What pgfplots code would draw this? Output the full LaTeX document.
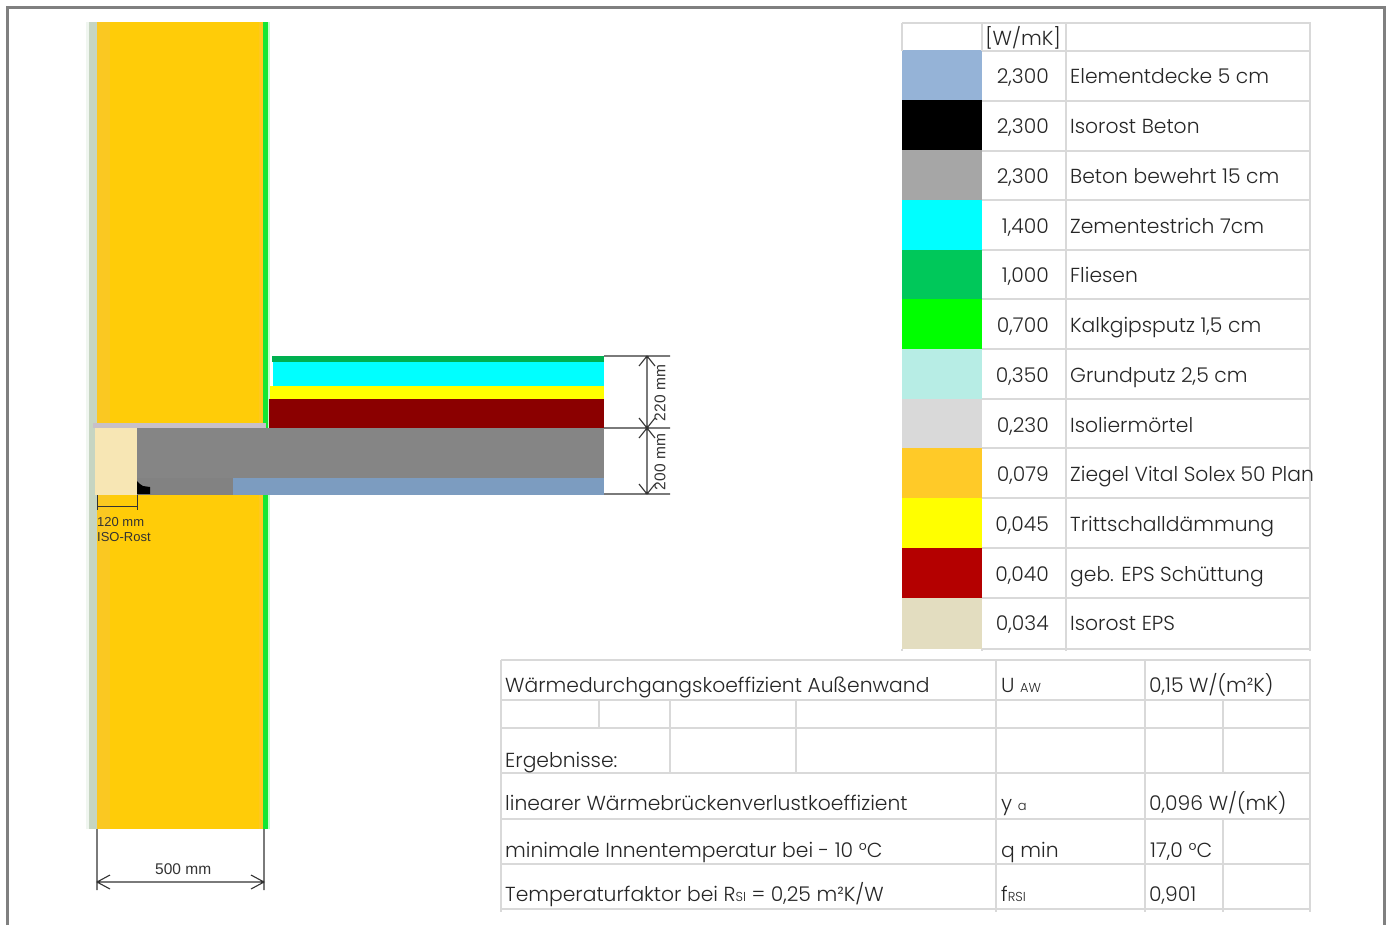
\documentclass[border=0pt]{standalone}
\usepackage{fontspec}
\setmainfont{Liberation Sans}
\newfontfamily\cg{Poppins Light}
\usepackage{pgfplots}
\pgfplotsset{compat=1.18}

\definecolor{pageframe}{HTML}{808080}
\definecolor{rulecol}{HTML}{D9D9D9}
\definecolor{ink}{HTML}{262626}
\definecolor{dimcol}{HTML}{333333}
\definecolor{wall}{HTML}{FFCC08}
\definecolor{wallL}{HTML}{FAC822}
\definecolor{wallR}{HTML}{FFC81E}
\definecolor{plaster}{HTML}{C6D5C2}
\definecolor{halo}{HTML}{F0F6F0}
\definecolor{lime}{HTML}{14E632}
\definecolor{limeL}{HTML}{C4FFCC}
\definecolor{mortar}{HTML}{C8C0C8}
\definecolor{eps}{HTML}{F7E6B4}
\definecolor{conc}{HTML}{858585}
\definecolor{concB}{HTML}{828282}
\definecolor{deck}{HTML}{7C9CC0}
\definecolor{tile}{HTML}{00B050}
\definecolor{screed}{HTML}{00FFFF}
\definecolor{sound}{HTML}{FFFF00}
\definecolor{fillred}{HTML}{8B0000}
\definecolor{s1}{HTML}{95B3D7}
\definecolor{s3}{HTML}{A6A6A6}
\definecolor{s5}{HTML}{00C85A}
\definecolor{s6}{HTML}{00FF00}
\definecolor{s7}{HTML}{B7EDE5}
\definecolor{s9}{HTML}{FFCA28}
\definecolor{s11}{HTML}{B40000}
\definecolor{s12}{HTML}{E3DDC0}

% filled block in pixel coordinates
\newcommand{\block}[5]{\addplot[fill=#1,draw=none,forget plot] coordinates {(#2,#3)(#4,#3)(#4,#5)(#2,#5)} --cycle;}
\newcommand{\cell}[3]{\node[anchor=base west,inner sep=0pt,text=ink] at (axis cs:#1,#2) {\cg\fontsize{20.3}{24}\selectfont #3};}
\newcommand{\val}[2]{\node[anchor=base east,inner sep=0pt,text=ink] at (axis cs:1049,#1) {\cg\fontsize{20.3}{24}\selectfont #2};}
\newcommand{\lab}[3]{\node[anchor=base west,inner sep=0pt,text=dimcol] at (axis cs:#1,#2) {#3};}
\newcommand{\sub}[1]{{\fontsize{13}{13}\selectfont #1}}

\begin{document}
\begin{tikzpicture}
\begin{axis}[
  scale only axis, width=1389pt, height=925pt,
  xmin=0, xmax=1389, ymin=0, ymax=925, y dir=reverse,
  axis lines=none, clip=false, unbounded coords=jump
]
% keeps the whole page inside the bounding box
\addplot[draw=none,forget plot] coordinates {(0,0)(1389,925)};

% wall, with the soft edges of the thermal picture
\block{halo}{86}{22}{89}{829}
\block{plaster}{89}{22}{97}{829}
\block{wallL}{97}{22}{110}{829}
\block{wall}{110}{22}{259}{829}
\block{wallR}{259}{22}{263}{829}
\block{lime}{263}{22}{268}{829}
\block{limeL}{268}{22}{270}{829}

% slab
\block{mortar}{93}{423}{266}{428}
\block{plaster}{89}{428}{95}{495}
\block{eps}{95}{428}{137}{495}
\block{conc}{137}{428}{604}{478}
\block{concB}{137}{478}{233}{495}
\block{deck}{233}{478}{604}{495}
\addplot[fill=black,draw=none,forget plot] coordinates {(137,481)(140,484)(143,486)(150,487)(150,494)(137,494)} --cycle;

% floor build-up
\block{fillred}{269}{399}{604}{428}
\block{sound}{270}{386}{604}{399}
\block{screed}{273}{362}{604}{386}
\block{tile}{272}{356}{604}{362}

% dimension lines
\addplot[dimcol,line width=1.1pt,forget plot] coordinates {
  (604,356)(670,356)(nan,nan)
  (604,428)(670,428)(nan,nan)
  (604,494)(670,494)(nan,nan)
  (647,356)(647,494)(nan,nan)
  (639,366)(647,356)(655,366)(nan,nan)
  (639,418)(647,428)(655,418)(nan,nan)
  (639,438)(647,428)(655,438)(nan,nan)
  (639,484)(647,494)(655,484)(nan,nan)
  (97,829)(97,890)(nan,nan)
  (264,829)(264,890)(nan,nan)
  (97,882)(264,882)(nan,nan)
  (110,875)(97,882)(110,889)(nan,nan)
  (251,875)(264,882)(251,889)(nan,nan)
};
\addplot[dimcol,line width=1pt,forget plot] coordinates {
  (97,495)(97,510)(nan,nan)
  (137,495)(137,510)(nan,nan)
  (97,506)(137,506)
};
\node[rotate=90,text=dimcol,inner sep=0pt] at (axis cs:660,393) {\fontsize{15.5}{16}\selectfont 220 mm};
\node[rotate=90,text=dimcol,inner sep=0pt] at (axis cs:660,462) {\fontsize{15.5}{16}\selectfont 200 mm};
\lab{155}{874}{\fontsize{15.5}{16}\selectfont 500 mm}
\lab{97}{526}{\fontsize{13}{14}\selectfont 120 mm}
\lab{97}{541}{\fontsize{13}{14}\selectfont ISO-Rost}

% page frame
\addplot[pageframe,line width=3pt,forget plot] coordinates {(7,925)(7,7)(1384,7)(1384,925)};

% material table: swatches
\block{s1}{902}{50}{982}{100}
\block{black}{902}{100}{982}{150}
\block{s3}{902}{150}{982}{200}
\block{screed}{902}{200}{982}{250}
\block{s5}{902}{250}{982}{299}
\block{s6}{902}{299}{982}{349}
\block{s7}{902}{349}{982}{399}
\block{rulecol}{902}{399}{982}{448}
\block{s9}{902}{448}{982}{498}
\block{sound}{902}{498}{982}{548}
\block{s11}{902}{548}{982}{598}
\block{s12}{902}{598}{982}{649}

% table rules
\addplot[rulecol,line width=2.2pt,forget plot] coordinates {
  (902,23)(1311,23)(nan,nan)
  (982,51)(1311,51)(nan,nan)
  (982,101)(1311,101)(nan,nan)
  (982,151)(1311,151)(nan,nan)
  (982,200)(1311,200)(nan,nan)
  (982,250)(1311,250)(nan,nan)
  (982,299)(1311,299)(nan,nan)
  (982,349)(1311,349)(nan,nan)
  (982,399)(1311,399)(nan,nan)
  (982,448)(1311,448)(nan,nan)
  (982,498)(1311,498)(nan,nan)
  (982,548)(1311,548)(nan,nan)
  (982,598)(1311,598)(nan,nan)
  (982,649)(1311,649)(nan,nan)
  (902,23)(902,51)(nan,nan)
  (982,23)(982,51)(nan,nan)
  (1066,23)(1066,651)(nan,nan)
  (1310,23)(1310,651)(nan,nan)
  (902,649)(902,651)(nan,nan)
  (982,649)(982,651)(nan,nan)
  (501,660)(1311,660)(nan,nan)
  (501,700)(1311,700)(nan,nan)
  (501,728)(1311,728)(nan,nan)
  (501,773)(1311,773)(nan,nan)
  (501,819)(1311,819)(nan,nan)
  (501,864)(1311,864)(nan,nan)
  (501,909)(1311,909)(nan,nan)
  (501,660)(501,912)(nan,nan)
  (599,700)(599,728)(nan,nan)
  (670,700)(670,773)(nan,nan)
  (796,700)(796,773)(nan,nan)
  (996,660)(996,912)(nan,nan)
  (1145,660)(1145,912)(nan,nan)
  (1223,700)(1223,773)(nan,nan)
  (1223,819)(1223,912)(nan,nan)
  (1310,660)(1310,912)
};

% material table: text
\node[text=ink,inner sep=0pt,anchor=base] at (axis cs:1023,45) {\cg\fontsize{20.3}{24}\selectfont [W/mK]};
\val{83}{2,300}   \cell{1070}{83}{Elementdecke 5 cm}
\val{133}{2,300}  \cell{1070}{133}{Isorost Beton}
\val{183}{2,300}  \cell{1070}{183}{Beton bewehrt 15 cm}
\val{233}{1,400}  \cell{1070}{233}{Zementestrich 7cm}
\val{282}{1,000}  \cell{1070}{282}{Fliesen}
\val{332}{0,700}  \cell{1070}{332}{Kalkgipsputz 1,5 cm}
\val{382}{0,350}  \cell{1070}{382}{Grundputz 2,5 cm}
\val{432}{0,230}  \cell{1070}{432}{Isoliermörtel}
\val{481}{0,079}  \cell{1070}{481}{Ziegel Vital Solex 50 Plan}
\val{531}{0,045}  \cell{1070}{531}{Trittschalldämmung}
\val{581}{0,040}  \cell{1070}{581}{geb. EPS Schüttung}
\val{630}{0,034}  \cell{1070}{630}{Isorost EPS}

% results table: text
\cell{505}{692}{Wärmedurchgangskoeffizient Außenwand}
\cell{1001}{692}{U \sub{AW}}
\cell{1149}{692}{0,15 W/(m²K)}
\cell{505}{767}{Ergebnisse:}
\cell{505}{810}{linearer Wärmebrückenverlustkoeffizient}
\cell{1001}{810}{y \sub{a}}
\cell{1149}{810}{0,096 W/(mK)}
\cell{505}{857}{minimale Innentemperatur bei - 10 °C}
\cell{1001}{857}{q min}
\cell{1150}{857}{17,0 °C}
\cell{505}{901}{Temperaturfaktor bei R\sub{SI} = 0,25 m²K/W}
\cell{1001}{901}{f\sub{RSI}}
\cell{1149}{901}{0,901}
\end{axis}
\end{tikzpicture}
\end{document}
